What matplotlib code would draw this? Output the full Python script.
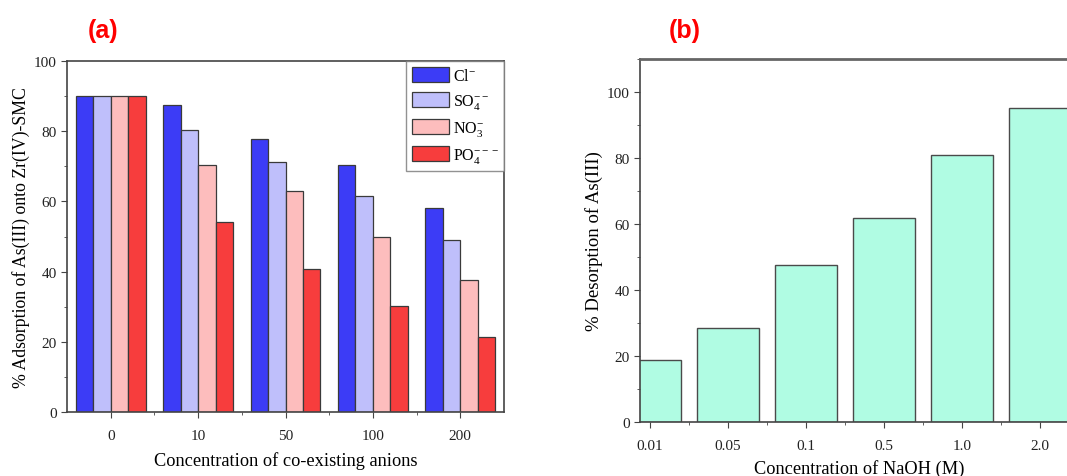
import matplotlib
matplotlib.use("Agg")
import matplotlib.pyplot as plt
import numpy as np
from matplotlib.ticker import MultipleLocator, FixedLocator

plt.rcParams["font.family"] = ["Liberation Serif", "DejaVu Serif"]
plt.rcParams["mathtext.fontset"] = "custom"
plt.rcParams["mathtext.rm"] = "Liberation Serif"
plt.rcParams["mathtext.it"] = "Liberation Serif:italic"

# panel (a): adsorption with co-existing anions
anion_conc = ["0", "10", "50", "100", "200"]
anion_labels = ["Cl$^{-}$", "SO$_4^{--}$", "NO$_3^{-}$", "PO$_4^{---}$"]
cl = [90.0, 87.5, 77.7, 70.4, 58.0]
so4 = [90.0, 80.2, 71.2, 61.4, 49.1]
no3 = [90.0, 70.4, 62.9, 49.8, 37.6]
po4 = [90.0, 54.0, 40.8, 30.2, 21.3]
anion_colors = ["#3c3cf6", "#bfbffb", "#fdbdbd", "#f73d3d"]

# panel (b): desorption with NaOH
naoh_conc = ["0.01", "0.05", "0.1", "0.5", "1.0", "2.0"]
desorption = [18.9, 28.5, 47.6, 61.8, 80.9, 95.2]

W, H = 1067, 477
fig = plt.figure(figsize=(W / 100, H / 100), dpi=100)

edge = "#3a3a3a"
spine_c = "#444444"


def style_axes(ax):
    for s in ax.spines.values():
        s.set_color(spine_c)
        s.set_linewidth(1.2)
    ax.tick_params(which="both", direction="out", colors=spine_c,
                   labelcolor="#222222", labelsize=11)
    ax.tick_params(which="major", length=4)
    ax.tick_params(which="minor", length=2.5)
    ax.tick_params(axis="x", which="major", pad=8)
    ax.yaxis.set_minor_locator(MultipleLocator(10))
    ax.yaxis.set_major_locator(MultipleLocator(20))


# ---- (a)
ax1 = fig.add_axes([67 / W, 1 - 413 / H, (504 - 67) / W, (413 - 62) / H])
x = np.arange(len(anion_conc))
bw = 0.2
for i, (vals, lab, c) in enumerate(zip([cl, so4, no3, po4], anion_labels, anion_colors)):
    ax1.bar(x + (i - 1.5) * bw, vals, bw, color=c, edgecolor=edge,
            linewidth=0.9, label=lab)
ax1.set_xlim(-0.5, 4.5)
ax1.set_ylim(0, 100)
ax1.set_xticks(x)
ax1.set_xticklabels(anion_conc)
ax1.xaxis.set_minor_locator(FixedLocator(x[:-1] + 0.5))
style_axes(ax1)
ax1.set_xlabel("Concentration of co-existing anions", fontsize=13.2, labelpad=7)
ax1.set_ylabel("% Adsorption of As(III) onto Zr(IV)-SMC", fontsize=12.8, labelpad=3)
leg = ax1.legend(loc="upper right", fontsize=11.5, frameon=True, fancybox=False,
                 borderaxespad=0.0, handlelength=2.3, handleheight=1.1,
                 labelspacing=0.5, handletextpad=0.25, borderpad=0.35)
leg.get_frame().set_edgecolor("#777777")
leg.get_frame().set_linewidth(1.0)

# ---- (b)
xl0, xl1 = -0.13, 5.5
left_b = 640
px_per = 78.0
right_b = left_b + (xl1 - xl0) * px_per
ax2 = fig.add_axes([left_b / W, 1 - 423 / H, (right_b - left_b) / W, (423 - 60) / H])
xb = np.arange(len(naoh_conc))
ax2.bar(xb, desorption, 0.8, color="#b0fce3", edgecolor="#4a4a4a", linewidth=1.0)
ax2.set_xlim(xl0, xl1)
ax2.set_ylim(0, 110)
ax2.set_xticks(xb)
ax2.set_xticklabels(naoh_conc)
ax2.xaxis.set_minor_locator(FixedLocator(xb[:-1] + 0.5))
style_axes(ax2)
ax2.spines["top"].set_color("#666666")
ax2.spines["top"].set_linewidth(2.0)
ax2.set_xlabel("Concentration of NaOH (M)", fontsize=13.2, labelpad=5)
ax2.set_ylabel("% Desorption of As(III)", fontsize=13.5, labelpad=3)

# panel letters
fig.text(103 / W, 1 - 31 / H, "(a)", color="#ff0000", fontsize=18, fontweight="bold",
         family="Liberation Sans", ha="center", va="center")
fig.text(685 / W, 1 - 31 / H, "(b)", color="#ff0000", fontsize=18, fontweight="bold",
         family="Liberation Sans", ha="center", va="center")

fig.savefig("out.png", dpi=100)
